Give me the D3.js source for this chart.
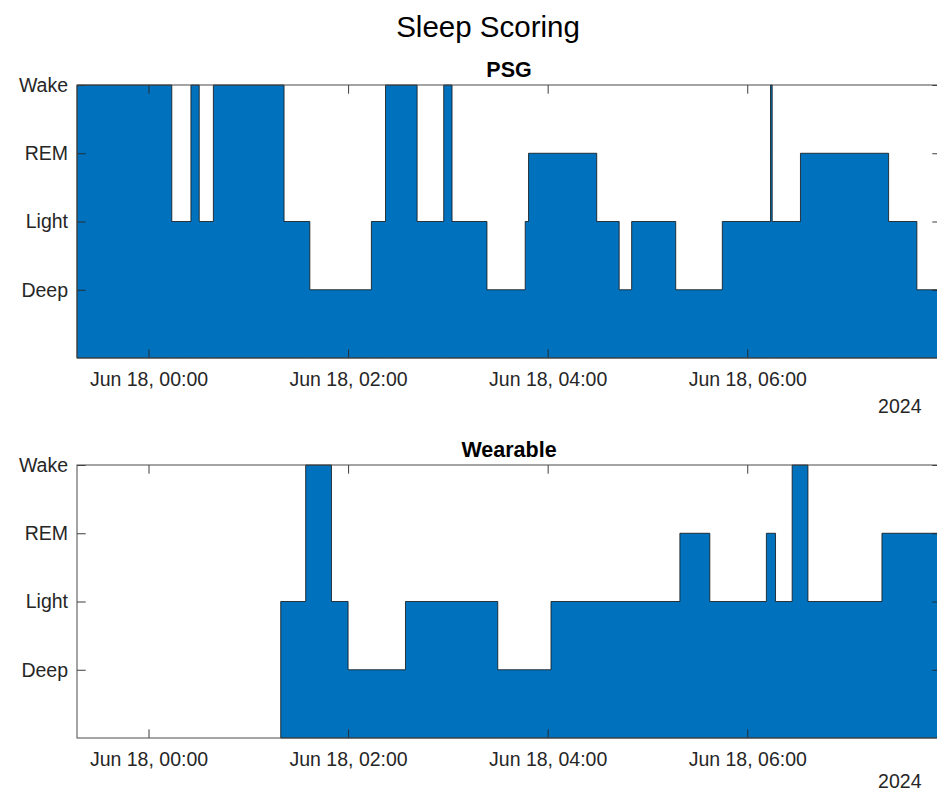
<!DOCTYPE html>
<html>
<head>
<meta charset="utf-8">
<script src="https://cdn.jsdelivr.net/npm/d3@7"></script>
<style>
  html, body { margin: 0; padding: 0; background: #fff; }
  svg { display: block; }
  text { font-family: "Liberation Sans", Arial, Helvetica, sans-serif; }
</style>
</head>
<body>
<svg id="chart" width="937" height="794"></svg>
<script>
// ---- Data ----
const stageLabels = ["Deep", "Light", "REM", "Wake"];
const xStart = "2024-06-17T23:17:00";
const xEnd = "2024-06-18T07:56:30";
const tickTimes = ["2024-06-18T00:00:00", "2024-06-18T02:00:00", "2024-06-18T04:00:00", "2024-06-18T06:00:00"];

const psgTimes = [
  "2024-06-17T23:17:00", "2024-06-18T00:14:00", "2024-06-18T00:25:30", "2024-06-18T00:30:30",
  "2024-06-18T00:39:00", "2024-06-18T01:21:30", "2024-06-18T01:37:00", "2024-06-18T02:14:00",
  "2024-06-18T02:22:30", "2024-06-18T02:41:30", "2024-06-18T02:57:30", "2024-06-18T03:02:30",
  "2024-06-18T03:23:30", "2024-06-18T03:46:30", "2024-06-18T03:48:30", "2024-06-18T04:29:30",
  "2024-06-18T04:43:00", "2024-06-18T04:50:30", "2024-06-18T05:17:00", "2024-06-18T05:45:00",
  "2024-06-18T06:14:00", "2024-06-18T06:15:00", "2024-06-18T06:32:00", "2024-06-18T07:25:00",
  "2024-06-18T07:42:00"
];
const psgStages = [
  "Wake", "Light", "Wake", "Light",
  "Wake", "Light", "Deep", "Light",
  "Wake", "Light", "Wake", "Light",
  "Deep", "Light", "REM", "Light",
  "Deep", "Light", "Deep", "Light",
  "Wake", "Light", "REM", "Light",
  "Deep"
];

const wearTimes = [
  "2024-06-18T01:19:30", "2024-06-18T01:34:30", "2024-06-18T01:50:00", "2024-06-18T02:00:00",
  "2024-06-18T02:34:30", "2024-06-18T03:30:00", "2024-06-18T04:02:00", "2024-06-18T05:19:30",
  "2024-06-18T05:37:30", "2024-06-18T06:11:30", "2024-06-18T06:17:00", "2024-06-18T06:27:00",
  "2024-06-18T06:36:30", "2024-06-18T07:21:00"
];
const wearStages = [
  "Light", "Wake", "Light", "Deep",
  "Light", "Deep", "Light", "REM",
  "Light", "REM", "Light", "Wake",
  "Light", "REM"
];

// ---- Layout ----
const svg = d3.select("#chart");
const left = 77, right = 941;
const panels = [
  { title: "PSG", top: 85, bottom: 358, times: psgTimes, stages: psgStages, yearY: 412.5 },
  { title: "Wearable", top: 465, bottom: 738, times: wearTimes, stages: wearStages, yearY: 788 }
];
const fontTick = 19.5;
const tickLen = 8.7;
const parse = s => new Date(s);

const x = d3.scaleTime().domain([parse(xStart), parse(xEnd)]).range([left, right]);
const fmt = d3.timeFormat("%b %d, %H:%M");

svg.append("text")
  .attr("x", 488).attr("y", 36.5)
  .attr("text-anchor", "middle")
  .attr("font-size", 29.5)
  .attr("fill", "#000")
  .text("Sleep Scoring");

panels.forEach(p => {
  const y = d3.scaleLinear().domain([0, 4]).range([p.bottom, p.top]);
  const g = svg.append("g");

  const pts = p.times.map((t, i) => ({ t: parse(t), v: stageLabels.indexOf(p.stages[i]) + 1 }));
  pts.push({ t: parse(xEnd), v: pts[pts.length - 1].v });

  const area = d3.area()
    .x(d => x(d.t))
    .y0(y(0))
    .y1(d => y(d.v))
    .curve(d3.curveStepAfter);

  g.append("path")
    .datum(pts)
    .attr("d", area)
    .attr("fill", "#0072BD")
    .attr("stroke", "#111")
    .attr("stroke-width", 0.8);

  // axes
  const xb = g.append("g").attr("transform", `translate(0,${p.bottom})`)
    .call(d3.axisBottom(x).tickValues(tickTimes.map(parse)).tickFormat(fmt)
      .tickSizeInner(-tickLen).tickSizeOuter(0).tickPadding(14.2));
  const xt = g.append("g").attr("transform", `translate(0,${p.top})`)
    .call(d3.axisTop(x).tickValues(tickTimes.map(parse)).tickFormat("")
      .tickSizeInner(-tickLen).tickSizeOuter(0));
  const yl = g.append("g").attr("transform", `translate(${left},0)`)
    .call(d3.axisLeft(y).tickValues([1, 2, 3, 4]).tickFormat(d => stageLabels[d - 1])
      .tickSizeInner(-tickLen).tickSizeOuter(0).tickPadding(9));
  const yr = g.append("g").attr("transform", `translate(${right},0)`)
    .call(d3.axisRight(y).tickValues([1, 2, 3, 4]).tickFormat("")
      .tickSizeInner(-tickLen).tickSizeOuter(0));

  [xb, xt, yl, yr].forEach(a => {
    a.select(".domain").remove();
    a.selectAll(".tick line").attr("stroke", "#262626").attr("stroke-width", 0.9);
    a.selectAll(".tick text").attr("font-size", fontTick).attr("fill", "#262626")
      .attr("font-family", "'Liberation Sans', Arial, Helvetica, sans-serif");
  });

  // box
  g.append("rect")
    .attr("x", left).attr("y", p.top)
    .attr("width", right - left).attr("height", p.bottom - p.top)
    .attr("fill", "none").attr("stroke", "#4a4a4a").attr("stroke-width", 1);

  g.append("text")
    .attr("x", (left + right) / 2).attr("y", p.top - 8.5)
    .attr("text-anchor", "middle")
    .attr("font-size", 21.5).attr("font-weight", "bold").attr("fill", "#000")
    .text(p.title);

  g.append("text")
    .attr("x", 921.5).attr("y", p.yearY)
    .attr("text-anchor", "end")
    .attr("font-size", fontTick).attr("fill", "#262626")
    .text("2024");
});
</script>
</body>
</html>
